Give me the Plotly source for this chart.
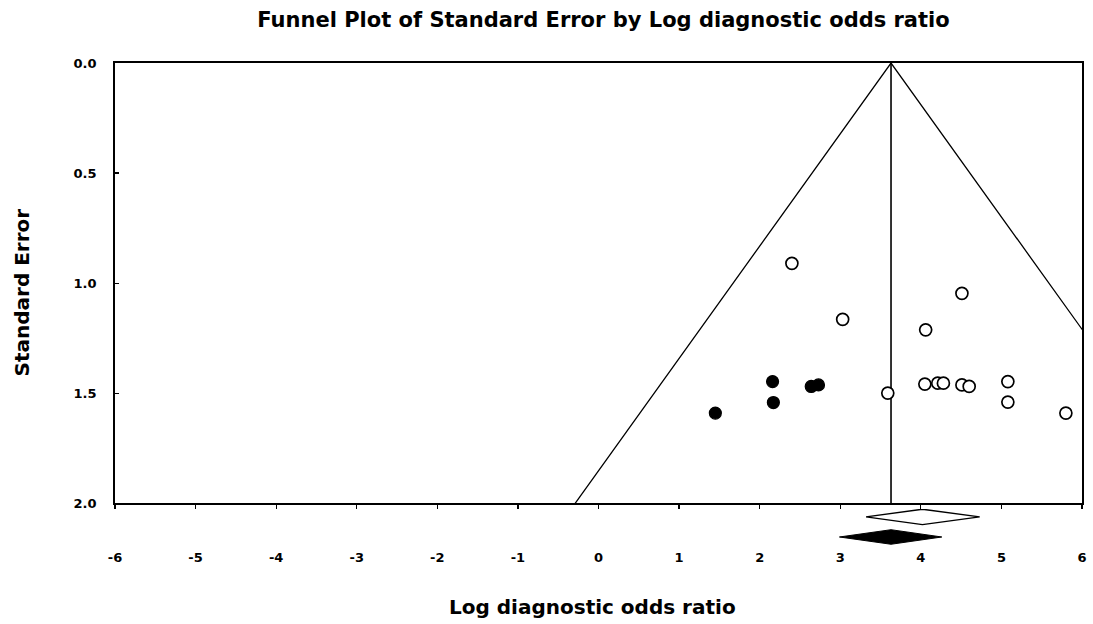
import plotly.graph_objects as go

# ---- data ----
obs_x = [2.40, 3.03, 4.51, 4.06, 3.59, 4.05, 4.21, 4.28, 4.51, 4.60, 5.08, 5.08, 5.80]
obs_se = [0.91, 1.164, 1.046, 1.212, 1.499, 1.458, 1.454, 1.454, 1.462, 1.469, 1.447, 1.540, 1.590]

imp_x = [1.45, 2.16, 2.17, 2.64, 2.73]
imp_se = [1.590, 1.447, 1.542, 1.469, 1.462]

funnel_center = 3.63
se_max = 2.0

observed_est = [4.02, 3.32, 4.73]   # point, lower, upper
adjusted_est = [3.63, 2.99, 4.26]

x_ticks = [-6, -5, -4, -3, -2, -1, 0, 1, 2, 3, 4, 5, 6]
y_ticks = [0.0, 0.5, 1.0, 1.5, 2.0]
y_tick_text = ["0.0", "0.5", "1.0", "1.5", "2.0"]

FONT = "DejaVu Sans"

fig = go.Figure()

# funnel lines
fig.add_trace(go.Scatter(
    x=[funnel_center - 1.96 * se_max, funnel_center, funnel_center + 1.96 * se_max],
    y=[se_max, 0, se_max],
    mode="lines", line=dict(color="black", width=1.3), hoverinfo="skip", showlegend=False))
fig.add_trace(go.Scatter(
    x=[funnel_center, funnel_center], y=[0, se_max],
    mode="lines", line=dict(color="black", width=1.6), hoverinfo="skip", showlegend=False))

# studies
fig.add_trace(go.Scatter(
    x=obs_x, y=obs_se, mode="markers",
    marker=dict(symbol="circle", size=12, color="white", line=dict(color="black", width=1.7)),
    showlegend=False))
fig.add_trace(go.Scatter(
    x=imp_x, y=imp_se, mode="markers",
    marker=dict(symbol="circle", size=12, color="black", line=dict(color="black", width=1.2)),
    showlegend=False))

# diamonds in lower strip
def diamond(est, yc, h):
    p, lo, hi = est
    return [lo, p, hi, p, lo], [yc, yc - h, yc, yc + h, yc]

dx, dy = diamond(observed_est, 2.060, 0.035)
fig.add_trace(go.Scatter(x=dx, y=dy, xaxis="x", yaxis="y2", mode="lines", fill="toself",
                         fillcolor="white", line=dict(color="black", width=1.4),
                         hoverinfo="skip", showlegend=False))
dx, dy = diamond(adjusted_est, 2.151, 0.033)
fig.add_trace(go.Scatter(x=dx, y=dy, xaxis="x", yaxis="y2", mode="lines", fill="toself",
                         fillcolor="black", line=dict(color="black", width=1.0),
                         hoverinfo="skip", showlegend=False))

fig.update_layout(
    width=1093, height=624,
    margin=dict(l=115, r=6, t=63, b=60),
    paper_bgcolor="white", plot_bgcolor="white",
    font=dict(family=FONT, color="black"),
    hovermode=False,
    title=dict(text="Funnel Plot of Standard Error by Log diagnostic odds ratio",
               font=dict(family=FONT, size=21, weight="bold", color="black"),
               x=(606 - 115) / 972, xref="paper", xanchor="center",
               y=1 - 20 / 624, yref="container", yanchor="middle"),
    xaxis=dict(range=[-6, 6], tickvals=x_ticks, ticktext=[str(v) for v in x_ticks],
               showgrid=False, zeroline=False, showline=True, mirror=True,
               linecolor="black", linewidth=1.8, ticks="outside", ticklen=4,
               tickwidth=1.3, tickcolor="black", anchor="y",
               tickfont=dict(family=FONT, size=13, weight="bold", color="black"),
               ticklabelstandoff=37),
    yaxis=dict(range=[2, 0], domain=[0.121, 1], tickvals=y_ticks, ticktext=y_tick_text,
               showgrid=False, zeroline=False, showline=True, mirror=True,
               linecolor="black", linewidth=1.8, ticks="inside", ticklen=4,
               tickwidth=1.3, tickcolor="black",
               tickfont=dict(family=FONT, size=13, weight="bold", color="black"),
               ticklabelstandoff=14),
    yaxis2=dict(range=[2.2735, 2.0236], domain=[0, 0.11], anchor="x",
                showgrid=False, zeroline=False, showline=False, showticklabels=False,
                ticks=""),
    annotations=[
        dict(text="Log diagnostic odds ratio", xref="paper", yref="paper",
             x=(595 - 115) / 972, y=-(607 - 564) / 501, xanchor="center", yanchor="middle",
             showarrow=False, font=dict(family=FONT, size=20, weight="bold", color="black")),
        dict(text="Standard Error", xref="paper", yref="paper",
             x=(22 - 115) / 972, y=(564 - 292) / 501, xanchor="center", yanchor="middle",
             textangle=-90, showarrow=False,
             font=dict(family=FONT, size=20, weight="bold", color="black")),
    ],
)

fig.write_html("out.html", config={"displayModeBar": False, "staticPlot": True})

# remove the default page margin so the figure sits at the window's top-left corner
with open("out.html", "r", encoding="utf-8") as f:
    html = f.read()
html = html.replace("<head>", "<head><style>html,body{margin:0;padding:0;overflow:hidden;}</style>", 1)
with open("out.html", "w", encoding="utf-8") as f:
    f.write(html)
